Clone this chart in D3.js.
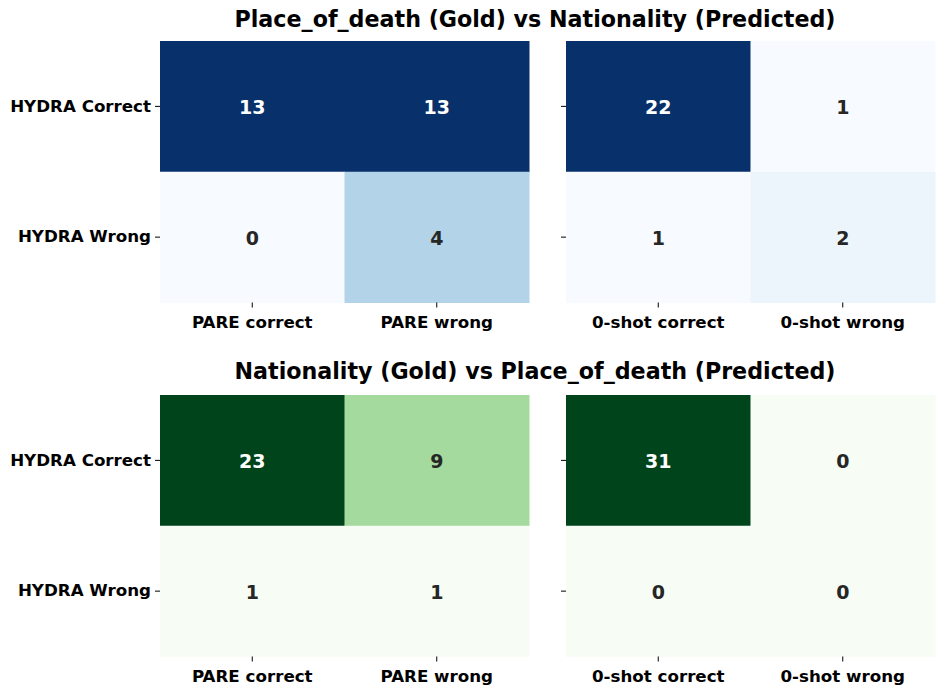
<!DOCTYPE html>
<html>
<head>
<meta charset="utf-8">
<script src="https://cdn.jsdelivr.net/npm/d3@7"></script>
<style>
  body { margin: 0; background: #fff; }
  text { font-family: "DejaVu Sans", sans-serif; }
</style>
</head>
<body>
<script>
var rowLabels = ['HYDRA Correct', 'HYDRA Wrong']
var pareLabels = ['PARE correct', 'PARE wrong']
var zeroLabels = ['0-shot correct', '0-shot wrong']
var titles = ['Place_of_death (Gold) vs Nationality (Predicted)', 'Nationality (Gold) vs Place_of_death (Predicted)']

// rows = HYDRA correct / wrong
var topPare = [[13, 13], [0, 4]]
var topZero = [[22, 1], [1, 2]]
var botPare = [[23, 9], [1, 1]]
var botZero = [[31, 0], [0, 0]]

var svg = d3.select('body').append('svg')
  .attr('width', 945)
  .attr('height', 695)

var panels = [
  {data: topPare, cols: pareLabels, x0: 160, y0: 41, cmap: d3.interpolateBlues, ylab: true},
  {data: topZero, cols: zeroLabels, x0: 566, y0: 41, cmap: d3.interpolateBlues, ylab: false},
  {data: botPare, cols: pareLabels, x0: 160, y0: 395, cmap: d3.interpolateGreens, ylab: true},
  {data: botZero, cols: zeroLabels, x0: 566, y0: 395, cmap: d3.interpolateGreens, ylab: false}
]
var W = 369, H = 261.5

panels.forEach(function (p) {
  var g = svg.append('g').attr('transform', `translate(${p.x0}, ${p.y0})`)
  var x = d3.scaleBand().domain(p.cols).range([0, W])
  var y = d3.scaleBand().domain(rowLabels).range([0, H])
  var flat = d3.merge(p.data)
  var color = d3.scaleSequential(p.cmap).domain(d3.extent(flat))
  var cells = []
  p.data.forEach(function (row, i) {
    row.forEach(function (v, j) { cells.push({r: rowLabels[i], c: p.cols[j], v: v}) })
  })
  g.selectAll('rect').data(cells).enter().append('rect')
    .attr('x', d => x(d.c))
    .attr('y', d => y(d.r))
    .attr('width', x.bandwidth() + 0.5)
    .attr('height', y.bandwidth() + 0.5)
    .attr('fill', d => color(d.v))
  g.selectAll('.val').data(cells).enter().append('text')
    .attr('class', 'val')
    .attr('x', d => x(d.c) + x.bandwidth() / 2)
    .attr('y', d => y(d.r) + y.bandwidth() / 2)
    .attr('text-anchor', 'middle')
    .attr('dy', '0.41em')
    .style('font-size', '19px')
    .style('font-weight', 'bold')
    .attr('fill', function (d) {
      var c = d3.hsl(color(d.v))
      return c.l < 0.5 ? '#ffffff' : '#262626'
    })
    .text(d => d.v)

  var xa = g.append('g').attr('transform', `translate(0, ${H})`)
    .call(d3.axisBottom(x).tickSize(5).tickPadding(9))
  var ya = g.append('g')
    .call(d3.axisLeft(y).tickSize(5).tickPadding(4).tickFormat(p.ylab ? null : ''))
  ;[xa, ya].forEach(function (a) {
    a.select('.domain').remove()
    a.selectAll('text').style('font-size', '16.7px').style('font-weight', 'bold').attr('fill', '#000')
  })
})

titles.forEach(function (t, i) {
  svg.append('text')
    .attr('x', 535)
    .attr('y', i === 0 ? 27 : 379)
    .attr('text-anchor', 'middle')
    .style('font-size', '22.2px')
    .style('font-weight', 'bold')
    .text(t)
})
</script>
</body>
</html>
